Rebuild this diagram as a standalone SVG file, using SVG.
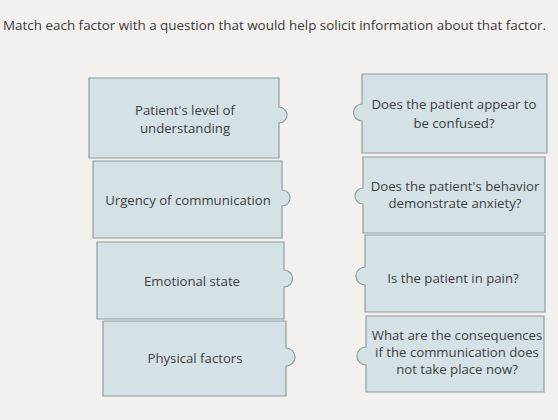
<svg xmlns="http://www.w3.org/2000/svg" width="558" height="420" viewBox="0 0 558 420">
  <style>
    .bg { fill: #f3f1ee; }
    .card { fill: #d4e2e5; stroke: #8d9ea1; stroke-width: 1.2; }
    .t { font-family: "Open Sans", "Liberation Sans", sans-serif; font-size: 13.2px; fill: #3c3f41; text-anchor: middle; }
    .title { font-family: "Open Sans", "Liberation Sans", sans-serif; font-size: 13.5px; fill: #3a3a3a; }
  </style>
  <rect class="bg" x="0" y="0" width="558" height="420"/>
  <text class="title" x="3" y="30" textLength="543" lengthAdjust="spacingAndGlyphs">Match each factor with a question that would help solicit information about that factor.</text>

  <g id="factor-understanding">
    <path class="card" d="M89 78 H279 V107 A8 8 0 0 1 279 123 V158 H89 Z"/>
    <text class="t" x="185" y="115">Patient's level of</text>
    <text class="t" x="185" y="133">understanding</text>
  </g>
  <g id="factor-urgency">
    <path class="card" d="M93 161 H282 V190 A8 8 0 0 1 282 206 V238 H93 Z"/>
    <text class="t" x="188" y="205">Urgency of communication</text>
  </g>
  <g id="factor-emotional">
    <path class="card" d="M97 242 H284 V270 A8.5 8.5 0 0 1 284 287 V319 H97 Z"/>
    <text class="t" x="192" y="286">Emotional state</text>
  </g>
  <g id="factor-physical">
    <path class="card" d="M103 321 H286 V348 A9 9 0 0 1 286 366 V396 H103 Z"/>
    <text class="t" x="195" y="363">Physical factors</text>
  </g>

  <g id="question-confused">
    <path class="card" d="M362 74 H547 V153 H362 V121 A8.5 8.5 0 0 1 362 104 Z"/>
    <text class="t" x="454" y="109">Does the patient appear to</text>
    <text class="t" x="454" y="128">be confused?</text>
  </g>
  <g id="question-anxiety">
    <path class="card" d="M363 157 H545 V233 H363 V204 A8 8 0 0 1 363 188 Z"/>
    <text class="t" x="455" y="191">Does the patient's behavior</text>
    <text class="t" x="455" y="208">demonstrate anxiety?</text>
  </g>
  <g id="question-pain">
    <path class="card" d="M365 235 H545 V312 H365 V285 A9 9 0 0 1 365 267 Z"/>
    <text class="t" x="453" y="283">Is the patient in pain?</text>
  </g>
  <g id="question-consequences">
    <path class="card" d="M366 316 H544 V392 H366 V365 A9 9 0 0 1 366 347 Z"/>
    <text class="t" x="457" y="340">What are the consequences</text>
    <text class="t" x="457" y="357">if the communication does</text>
    <text class="t" x="457" y="374">not take place now?</text>
  </g>

  <g id="connectors"></g>
</svg>
